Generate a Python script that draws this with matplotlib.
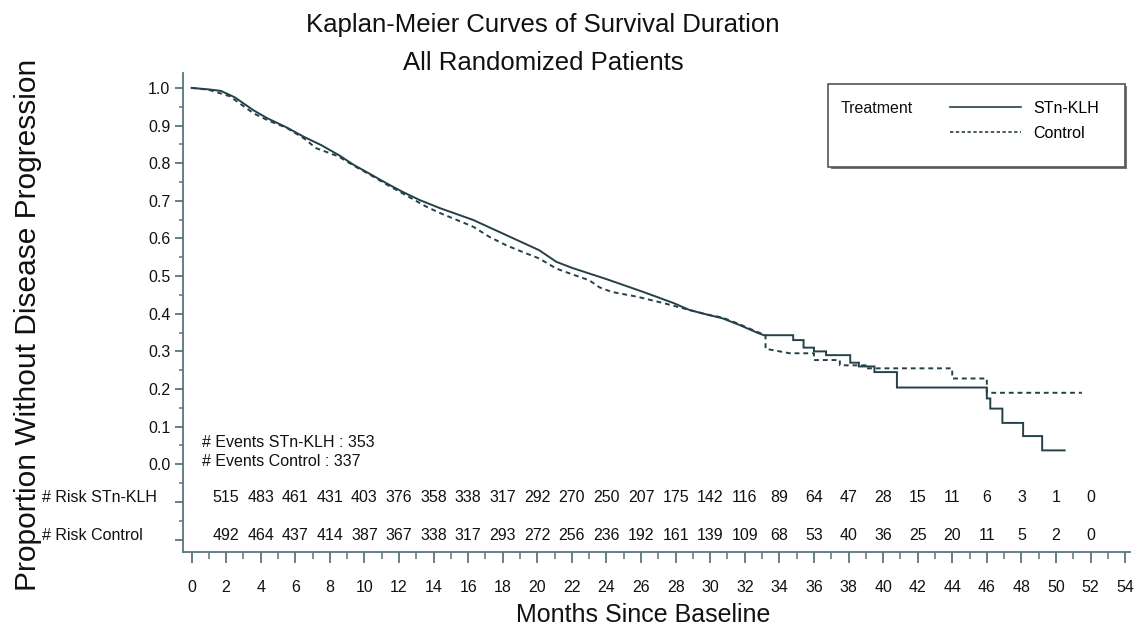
"""
Kaplan-Meier curves of survival duration, all randomized patients,
STn-KLH vs control, with numbers at risk under the plot.
"""

import matplotlib
matplotlib.use("Agg")
import matplotlib.pyplot as plt
import matplotlib.ticker as ticker
from matplotlib.lines import Line2D
from matplotlib.patches import Rectangle
from matplotlib.transforms import blended_transform_factory

# ── Data ──────────────────────────────────────────────────────────────────────
stn_months = [0.0, 1.0, 1.7, 2.5, 3.6, 4.4, 5.5, 6.5, 7.5, 8.5, 9.4, 10.3,
              11.3, 12.2, 13.2, 14.4, 15.2, 16.3, 17.2, 18.2, 19.1, 20.1,
              21.1, 22.0, 23.0, 24.0, 25.0, 26.0, 26.9, 27.9, 28.8, 29.8,
              30.7, 31.7, 32.7, 33.1, 34.8, 34.8, 35.4, 35.4, 36.0, 36.0,
              36.7, 36.7, 38.1, 38.1, 38.6, 38.6, 39.5, 39.5, 40.8, 40.8,
              46.0, 46.0, 46.2, 46.2, 46.9, 46.9, 48.1, 48.1, 49.2, 49.2, 50.5]
stn_surv = [1.000, 0.996, 0.992, 0.975, 0.940, 0.919, 0.895, 0.870, 0.848,
            0.822, 0.795, 0.772, 0.746, 0.724, 0.702, 0.680, 0.667, 0.649,
            0.630, 0.609, 0.590, 0.569, 0.538, 0.522, 0.507, 0.492, 0.476,
            0.460, 0.445, 0.428, 0.410, 0.398, 0.388, 0.370, 0.350, 0.343,
            0.343, 0.330, 0.330, 0.310, 0.310, 0.300, 0.300, 0.290, 0.290,
            0.270, 0.270, 0.260, 0.260, 0.245, 0.245, 0.204, 0.204, 0.175,
            0.175, 0.148, 0.148, 0.110, 0.110, 0.075, 0.075, 0.037, 0.037]

ctl_months = [0.0, 1.0, 2.2, 3.6, 4.5, 5.5, 6.5, 7.2, 8.5, 9.4, 10.3, 11.3,
              12.2, 13.6, 14.4, 15.3, 16.3, 17.2, 18.2, 19.1, 20.1, 21.1,
              22.0, 23.0, 23.6, 24.3, 25.8, 27.4, 28.8, 29.8, 30.7, 31.7,
              32.7, 33.2, 33.2, 34.6, 36.0, 36.0, 37.5, 37.5, 39.0, 39.0,
              44.0, 44.0, 46.0, 46.0, 51.5]
ctl_surv = [1.000, 0.995, 0.978, 0.932, 0.912, 0.894, 0.866, 0.840, 0.818,
            0.793, 0.770, 0.743, 0.720, 0.684, 0.667, 0.650, 0.631, 0.605,
            0.582, 0.565, 0.547, 0.520, 0.505, 0.489, 0.470, 0.458, 0.445,
            0.427, 0.410, 0.398, 0.390, 0.372, 0.352, 0.343, 0.307, 0.295,
            0.295, 0.277, 0.277, 0.263, 0.263, 0.255, 0.255, 0.228, 0.228,
            0.190, 0.190]

risk_months = list(range(2, 53, 2))
risk_stn = [515, 483, 461, 431, 403, 376, 358, 338, 317, 292, 270, 250, 207,
            175, 142, 116, 89, 64, 47, 28, 15, 11, 6, 3, 1, 0]
risk_ctl = [492, 464, 437, 414, 387, 367, 338, 317, 293, 272, 256, 236, 192,
            161, 139, 109, 68, 53, 40, 36, 25, 20, 11, 5, 2, 0]

events_stn = 353
events_ctl = 337

# ── Style ─────────────────────────────────────────────────────────────────────
plt.rcParams["font.family"] = ["Liberation Sans", "DejaVu Sans"]
CURVE = "#24414a"
AXIS = "#56767e"
TEXT = "#111111"
FS = 11.5

fig = plt.figure(figsize=(11.36, 6.28), dpi=100, facecolor="white")
ax = fig.add_axes([0.161, 0.121, 0.834, 0.763])

ax.plot(stn_months, stn_surv, color=CURVE, lw=1.4, solid_joinstyle="miter")
ax.plot(ctl_months, ctl_surv, color=CURVE, lw=1.4, ls=(0, (2.5, 2)))

ax.set_xlim(-0.5, 54.3)
ax.set_ylim(-0.233, 1.04)

# spines / ticks
ax.spines[["top", "right"]].set_visible(False)
for s in ("left", "bottom"):
    ax.spines[s].set_color(AXIS)
    ax.spines[s].set_linewidth(1.3)

ax.xaxis.set_major_locator(ticker.MultipleLocator(2))
ax.xaxis.set_minor_locator(ticker.MultipleLocator(1))
ax.yaxis.set_major_locator(ticker.FixedLocator(
    [-0.2, -0.1] + [i / 10 for i in range(11)]))
ax.yaxis.set_minor_locator(ticker.FixedLocator(
    [-0.15, -0.05] + [i / 10 + 0.05 for i in range(10)]))
ax.yaxis.set_major_formatter(ticker.FuncFormatter(
    lambda v, p: "" if v < -0.01 else f"{abs(v):.1f}"))

ax.tick_params(axis="x", which="major", length=8, width=1.3, color=AXIS,
               labelsize=FS, labelcolor=TEXT, pad=12)
ax.tick_params(axis="x", which="minor", length=5, width=1.1, color=AXIS)
ax.tick_params(axis="y", which="major", length=6, width=1.3, color=AXIS,
               labelsize=FS, labelcolor=TEXT, pad=3)
ax.tick_params(axis="y", which="minor", length=3, width=1.1, color=AXIS)

# ── Titles and axis labels ────────────────────────────────────────────────────
fig.text(0.478, 0.960, "Kaplan-Meier Curves of Survival Duration",
         ha="center", va="center", fontsize=18.5, color=TEXT)
fig.text(0.478, 0.900, "All Randomized Patients",
         ha="center", va="center", fontsize=18.5, color=TEXT)
fig.text(0.025, 0.482, "Proportion Without Disease Progression",
         rotation=90, ha="center", va="center", fontsize=21.5, color=TEXT)
fig.text(0.566, 0.021, "Months Since Baseline",
         ha="center", va="center", fontsize=18, color=TEXT)

# ── Event counts ──────────────────────────────────────────────────────────────
ax.text(0.6, 0.058, f"# Events STn-KLH : {events_stn}", fontsize=FS,
        color=TEXT, va="center")
ax.text(0.6, 0.007, f"# Events Control : {events_ctl}", fontsize=FS,
        color=TEXT, va="center")

# ── Numbers at risk ───────────────────────────────────────────────────────────
row_stn, row_ctl = -0.087, -0.19
for m, n in zip(risk_months, risk_stn):
    ax.text(m, row_stn, str(n), ha="center", va="center", fontsize=FS,
            color=TEXT)
for m, n in zip(risk_months, risk_ctl):
    ax.text(m, row_ctl, str(n), ha="center", va="center", fontsize=FS,
            color=TEXT)

lab_tr = blended_transform_factory(fig.transFigure, ax.transData)
ax.text(0.037, row_stn, "# Risk STn-KLH", transform=lab_tr, fontsize=FS,
        color=TEXT, va="center", ha="left", clip_on=False)
ax.text(0.037, row_ctl, "# Risk Control", transform=lab_tr, fontsize=FS,
        color=TEXT, va="center", ha="left", clip_on=False)

# ── Legend box ────────────────────────────────────────────────────────────────
ax.add_patch(Rectangle((0.684, 0.800), 0.313, 0.172, transform=ax.transAxes,
                       facecolor="#777777", edgecolor="none", zorder=4))
ax.add_patch(Rectangle((0.681, 0.804), 0.313, 0.172, transform=ax.transAxes,
                       facecolor="white", edgecolor="#555555", lw=1.2,
                       zorder=5))
ax.text(0.694, 0.926, "Treatment", transform=ax.transAxes, fontsize=FS,
        color=TEXT, va="center", zorder=6)
handles = [Line2D([], [], color=CURVE, lw=1.2),
           Line2D([], [], color=CURVE, lw=1.2, ls=(0, (2, 1.5)))]
leg = ax.legend(handles, ["STn-KLH", "Control"], loc="upper left",
                bbox_to_anchor=(0.810, 0.942), frameon=False, fontsize=FS,
                handlelength=4.4, handletextpad=0.8, labelspacing=0.65,
                borderpad=0.0, borderaxespad=0.0)
leg.set_zorder(7)

fig.savefig("out.png", dpi=100, facecolor="white")
